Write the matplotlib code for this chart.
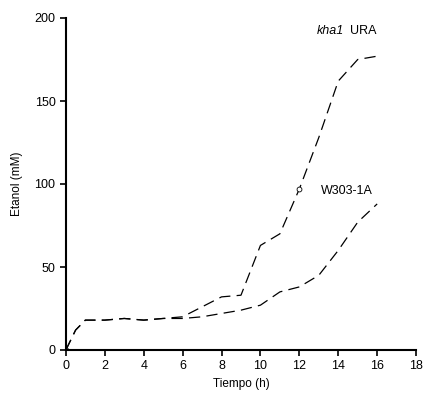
import matplotlib
matplotlib.use('Agg')
import matplotlib.pyplot as plt

plt.rcParams['font.family'] = ['Liberation Sans', 'DejaVu Sans']

# Data
t_kha1 = [0, 0.5, 1, 2, 3, 4, 5, 6, 7, 8, 9, 10, 11, 12, 13, 14, 15, 16]
etoh_kha1 = [0, 12, 18, 18, 19, 18, 19, 20, 26, 32, 33, 63, 70, 97, 128, 162, 175, 177]

t_w303 = [0, 0.5, 1, 2, 3, 4, 5, 6, 7, 8, 9, 10, 11, 12, 13, 14, 15, 16]
etoh_w303 = [0, 12, 18, 18, 19, 18, 19, 19, 20, 22, 24, 27, 35, 38, 45, 60, 77, 88]

xticks = [0, 2, 4, 6, 8, 10, 12, 14, 16, 18]
yticks = [0, 50, 100, 150, 200]

fig = plt.figure(figsize=(4.25, 4.0), dpi=100)
ax = fig.add_axes([0.155, 0.125, 0.824, 0.83])

ax.plot(t_kha1, etoh_kha1, color='black', lw=0.9, dashes=(9, 5))
ax.plot(t_w303, etoh_w303, color='black', lw=0.9, dashes=(9, 5))
# a few open circles that show in the scan
ax.plot([0, 12], [0, 97], ls='none', marker='o', ms=3.5, mfc='white',
        mec='black', mew=0.6)

ax.text(12.9, 192, 'kha1', style='italic', fontsize=9, ha='left', va='center')
ax.text(14.6, 192, 'URA', fontsize=9, ha='left', va='center')
ax.text(13.1, 96, 'W303-1A', fontsize=9, ha='left', va='center')

ax.set_xlim(0, 18)
ax.set_ylim(0, 200)
ax.set_xticks(xticks)
ax.set_yticks(yticks)
ax.tick_params(labelsize=9, length=4, width=1.2, direction='out')
ax.spines['top'].set_visible(False)
ax.spines['right'].set_visible(False)
ax.spines['left'].set_linewidth(1.5)
ax.spines['bottom'].set_linewidth(1.5)

ax.set_xlabel('Tiempo (h)', fontsize=8.5)
ax.set_ylabel('Etanol (mM)', fontsize=8.5, labelpad=8)

fig.savefig('out.png', dpi=100)
